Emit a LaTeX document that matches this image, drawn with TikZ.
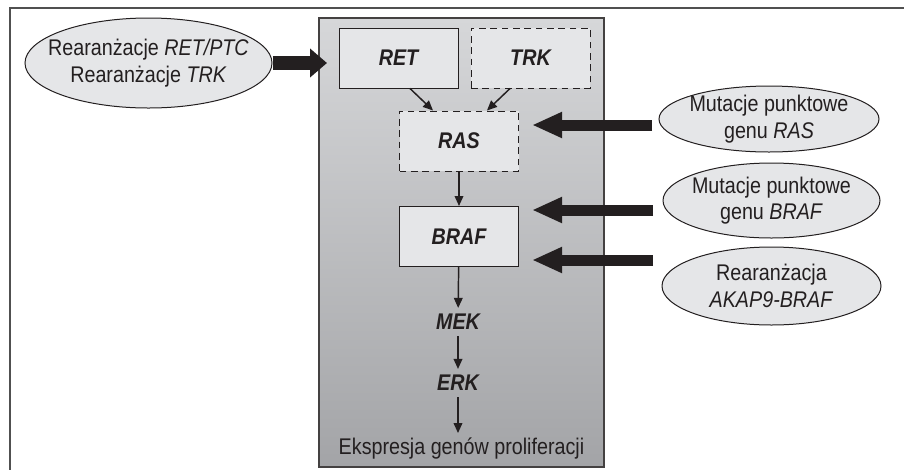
\documentclass[tikz,border=0pt]{standalone}
\usepackage{fontspec}
\setmainfont{Liberation Sans}[FakeStretch=0.87]
\usetikzlibrary{arrows.meta,shapes.geometric,calc}

\definecolor{ink}{RGB}{35,31,32}
\definecolor{boxfill}{RGB}{229,230,232}
\definecolor{paneltop}{RGB}{214,215,217}
\definecolor{panelbot}{RGB}{163,164,167}
\definecolor{framegray}{RGB}{80,80,80}
\newcommand{\labelsize}{\fontsize{17pt}{20pt}\selectfont}

\tikzset{
  box/.style={draw=ink, fill=boxfill, line width=0.75pt, minimum width=89.25pt, minimum height=45pt, inner sep=0pt, font=\labelsize\bfseries\itshape},
  dashbox/.style={box, dash pattern=on 5pt off 3.5pt},
  oval/.style={ellipse, draw=ink, fill=boxfill, line width=0.75pt, inner sep=0pt},
  gene/.style={font=\labelsize\bfseries\itshape, inner sep=4.5pt},
  bigarrow/.style={ink, line width=8.25pt, -{Triangle[length=22.5pt,width=18pt]}},
  leftarrow/.style={ink, line width=10.5pt, -{Triangle[length=12.75pt,width=21pt]}},
  smallarrow/.style={ink, line width=1.1pt, -{Triangle[length=7.5pt,width=6.5pt]}},
}

\begin{document}
\begin{tikzpicture}[x=0.75pt,y=0.75pt,yscale=-1,xscale=1,font=\labelsize,text=ink]
\useasboundingbox (0,0) rectangle (904,469);
\clip (0,0) rectangle (904,469);

%Shape: Frame
\draw [framegray, line width=1.5pt] (10,8) rectangle (930,490);

%Shape: Panel
\draw [draw=ink!85, line width=1pt, top color=paneltop, bottom color=panelbot] (319,18) rectangle (604,467);

% Boxes
\draw (398.5,58) node [box] (ret) {RET};
\draw (530.5,58) node [dashbox] (trk) {TRK};
\draw (459,141) node [dashbox] (ras) {RAS};
\draw (459,236.5) node [box] (braf) {BRAF};

% Text Node
\draw (458,322) node [gene] (mek) {MEK};
% Text Node
\draw (458,383) node [gene] (erk) {ERK};
% Text Node
\draw (461.5,448) node [inner sep=3pt] (expr) {Ekspresja genów proliferacji};

%Shape: Ellipse
\draw (148.5,63) node [oval, minimum width=185.25pt, minimum height=67.5pt,
  label={[align=center]center:{Rearanżacje \textit{RET/PTC}\\Rearanżacje \textit{TRK}}}] (rearr) {};
%Shape: Ellipse
\draw (769,119) node [oval, minimum width=165pt, minimum height=49.5pt,
  label={[align=center]center:{Mutacje punktowe\\genu \textit{RAS}}}] (rasmut) {};
%Shape: Ellipse
\draw (771.5,200.5) node [oval, minimum width=162.75pt, minimum height=56.25pt,
  label={[align=center]center:{Mutacje punktowe\\genu \textit{BRAF}}}] (brafmut) {};
%Shape: Ellipse
\draw (771.5,286) node [oval, minimum width=164.25pt, minimum height=58.5pt,
  label={[align=center]center:{Rearanżacja\\\textit{AKAP9-BRAF}}}] (akap) {};

% Arrow ends
\coordinate (panelin) at (327,63);
\coordinate (rasout) at (652,125);
\coordinate (rasin) at (532,125);
\coordinate (brafout) at (653,210);
\coordinate (brafin) at (532,210);
\coordinate (akapout) at (653,260);
\coordinate (akapin) at (532,260);

%Straight Lines
\draw [leftarrow] (rearr.east) -- (panelin);
\draw [bigarrow] (rasout) -- (rasin);
\draw [bigarrow] (brafout) -- (brafin);
\draw [bigarrow] (akapout) -- (akapin);

%Straight Lines
\draw [smallarrow] ($(ret.south)+(11.5,0)$) -- ($(ras.north)+(-26,0)$);
\draw [smallarrow] ($(trk.south)+(-20.5,0)$) -- ($(ras.north)+(28,0)$);
\draw [smallarrow] (ras) -- (braf);
\draw [smallarrow] (braf) -- (mek);
\draw [smallarrow] (mek) -- (erk);
\draw [smallarrow] (erk) -- (erk |- expr.north);

\end{tikzpicture}
\end{document}
